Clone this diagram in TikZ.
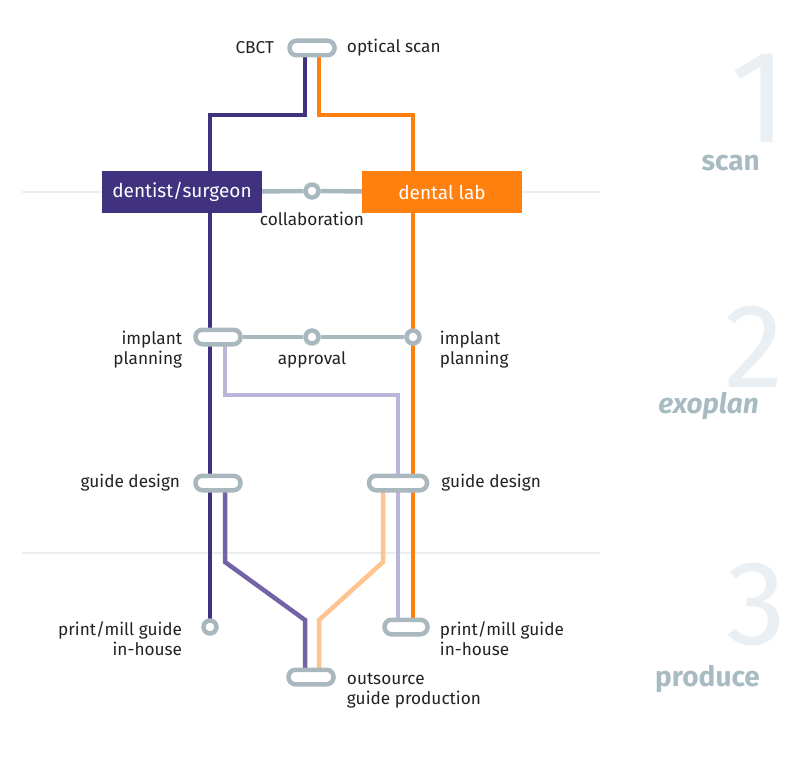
\documentclass[tikz,border=0pt]{standalone}
\usepackage{fontspec}
\setmainfont{Fira Sans}
\usetikzlibrary{positioning,calc}

\definecolor{surgeon}{HTML}{41327F}
\definecolor{surgeonmid}{HTML}{7462A7}
\definecolor{surgeonpale}{HTML}{BDB4D9}
\definecolor{lab}{HTML}{FF7F0F}
\definecolor{labpale}{HTML}{FFC38F}
\definecolor{stationgrey}{HTML}{A9B8BF}
\definecolor{sepgrey}{HTML}{E8EEF1}
\definecolor{numgrey}{HTML}{E9EFF2}
\definecolor{stagegrey}{HTML}{A8BBC3}
\definecolor{ink}{HTML}{222222}

\pgfdeclarelayer{bg}
\pgfsetlayers{bg,main}

\tikzset{
  pill/.style={draw=stationgrey, line width=4.5pt, fill=white, rounded corners=7pt,
    minimum width=45pt, minimum height=14.5pt, inner sep=0pt},
  station/.style={circle, draw=stationgrey, line width=4.5pt, fill=white,
    minimum size=13pt, inner sep=0pt},
  box/.style={minimum width=160pt, minimum height=42pt, inner sep=0pt, text=white,
    font=\fontsize{19}{22}\selectfont},
  lbl/.style={text=ink, inner sep=1pt, font=\fontsize{17.2}{20}\selectfont},
  route/.style={line width=4.5pt},
  link/.style={line width=4.5pt, stationgrey},
  sepline/.style={line width=1.2pt, sepgrey},
  bignum/.style={text=numgrey, inner sep=0pt, text depth=0pt, anchor=base east,
    font=\fontsize{120}{120}\selectfont},
  stage/.style={text=stagegrey, inner sep=0pt, anchor=base east,
    font=\fontsize{28}{32}\selectfont\bfseries}
}

\begin{document}
\begin{tikzpicture}[x=1pt,y=-1pt]
  \useasboundingbox (0,0) rectangle (802,757);

  \node[bignum, font=\fontsize{132}{132}\selectfont] (one) at (788,142) {1};
  \node[stage] (scanstage) at (760,170) {scan};
  \node[bignum] (two) at (784,387) {2};
  \node[stage] (planstage) at (759,413) {\itshape exoplan};
  \node[bignum] (three) at (787,644) {3};
  \node[stage] (producestage) at (760,686) {produce};

  \node[pill] (scan) at (312,48) {};
  \node[lbl, left=12pt of scan] (cbct) {CBCT};
  \node[lbl, right=9pt of scan] (optical) {optical scan};

  \node[box, fill=surgeon] (dentist) at (182,192) {dentist/surgeon};
  \node[box, fill=lab] (lab) at (442,192) {dental lab};
  \node[station] (collab) at (312,191) {};
  \node[lbl, below=11pt of collab] (collabtxt) {collaboration};

  \node[pill] (plan1) at (218,337) {};
  \node[station] (approval) at (312,337) {};
  \node[station] (plan2) at (413,337) {};
  \node[lbl, below=5pt of approval] (approvaltxt) {approval};
  \node[lbl, align=right, anchor=north east] (plan1txt) at ([xshift=-10pt,yshift=7pt]plan1.west) {implant\\planning};
  \node[lbl, align=left, anchor=north west] (plan2txt) at ([xshift=17pt,yshift=7pt]plan2.east) {implant\\planning};

  \node[pill] (guide1) at (218,483) {};
  \node[pill, minimum width=58pt] (guide2) at (398,483) {};
  \node[lbl, left=12pt of guide1] (guide1txt) {guide design};
  \node[lbl, right=11pt of guide2] (guide2txt) {guide design};

  \node[station] (print1) at (210,627) {};
  \node[pill, minimum width=43pt] (print2) at (406,627) {};
  \node[lbl, align=right, anchor=north east] (print1txt) at ([xshift=-18pt,yshift=7pt]print1.west) {print/mill guide\\in-house};
  \node[lbl, align=left, anchor=north west] (print2txt) at ([xshift=9pt,yshift=7pt]print2.east) {print/mill guide\\in-house};

  \node[pill] (outsource) at (311,677) {};
  \node[lbl, align=left, anchor=north west] (outsourcetxt) at ([xshift=10pt,yshift=5pt]outsource.east) {outsource\\guide production};

  \coordinate (bendL) at (210,115);
  \coordinate (bendR) at (413,115);
  \coordinate (bendP) at (398,395);
  \coordinate (kinkA) at (225,562);
  \coordinate (kinkB) at (305,620);
  \coordinate (kinkC) at (383,562);
  \coordinate (kinkD) at (319,620);

  \begin{pgfonlayer}{bg}
    \draw[sepline] (22,192) -- (600,192);
    \draw[sepline] (22,553) -- (600,553);
    \draw[route, surgeon] ([xshift=-7pt]scan.center) |- (bendL) -- (print1.center);
    \draw[route, lab] ([xshift=7pt]scan.center) |- (bendR) -- ([xshift=7pt]print2.center);
    \draw[route, surgeonpale] ([xshift=7pt]plan1.center) |- (bendP) -- ([xshift=-8pt]print2.center);
    \draw[route, surgeonmid] ([xshift=7pt]guide1.center) -- (kinkA) -- (kinkB) -- ([xshift=-6pt]outsource.center);
    \draw[route, labpale] ([xshift=-15pt]guide2.center) -- (kinkC) -- (kinkD) -- ([xshift=8pt]outsource.center);
    \draw[link] (dentist) -- (collab) -- (lab);
    \draw[link] (plan1) -- (approval) -- (plan2);
  \end{pgfonlayer}
\end{tikzpicture}
\end{document}
